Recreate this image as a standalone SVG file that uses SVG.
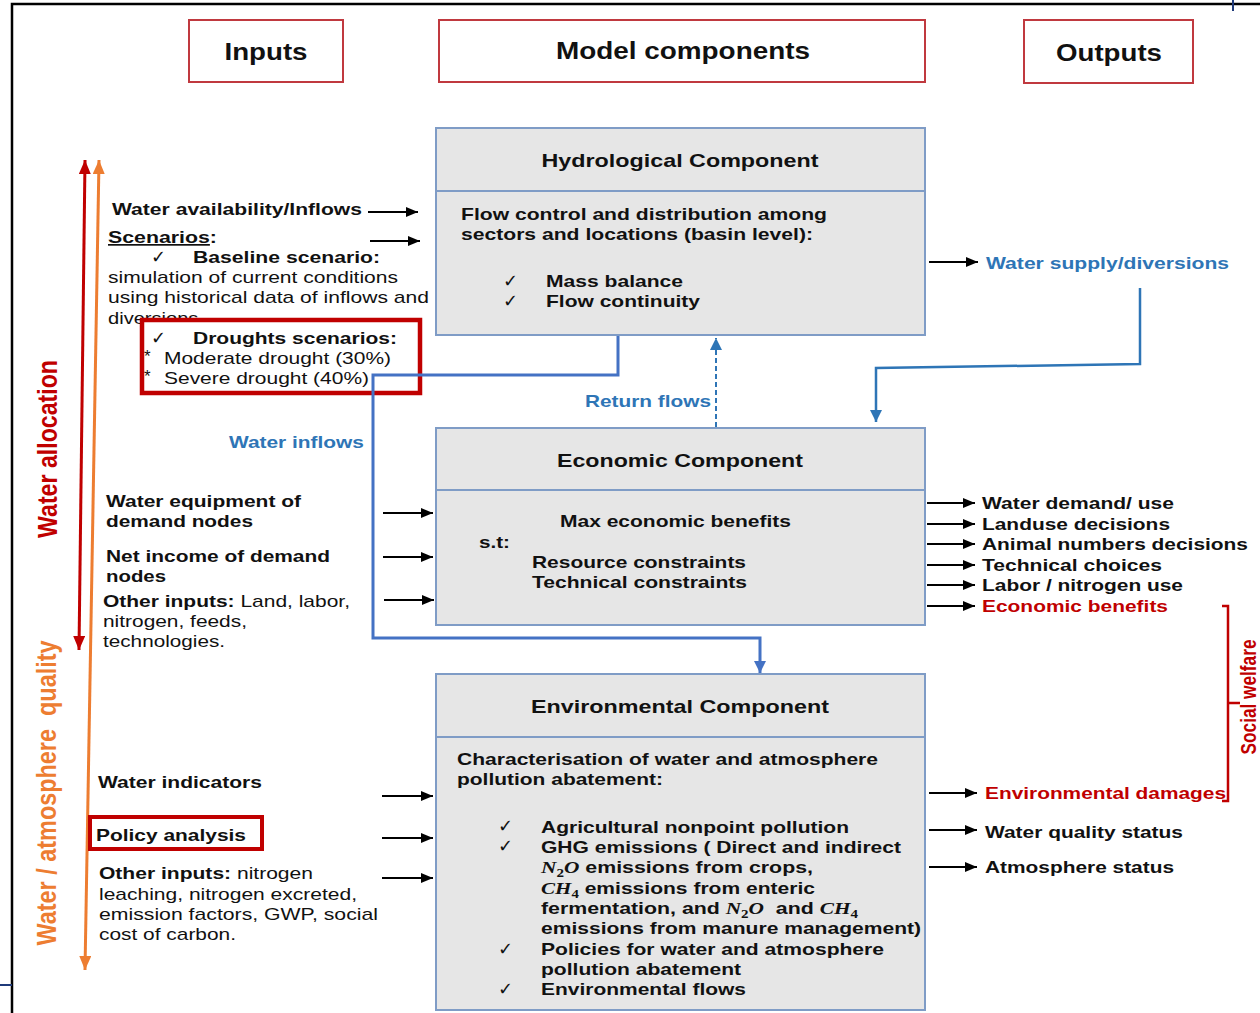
<svg xmlns="http://www.w3.org/2000/svg" width="1260" height="1013" viewBox="0 0 1260 1013">
<style>
text{font-family:"Liberation Sans",Arial,sans-serif;fill:#111}
.hd{font-size:23px;font-weight:bold;text-anchor:middle}
.tt{font-size:19px;font-weight:bold;text-anchor:middle}
.b{font-size:17px;font-weight:bold}
.r{font-weight:normal}
.n{font-size:17px}
.ck{font-family:"DejaVu Sans",sans-serif;font-size:18px}
.m{font-family:"Liberation Serif",serif;font-style:italic;font-weight:bold}
.sub{font-family:"Liberation Serif",serif;font-size:12px;font-weight:bold}
.blu{fill:#2e75b6}
.red{fill:#c00000}
.hbox{fill:#fff;stroke:#c0393f;stroke-width:2}
.comp{fill:#e6e6e6;stroke:#7f9cc6;stroke-width:2}
.div{stroke:#7f9cc6;stroke-width:2}
.ar{stroke:#000;stroke-width:2;fill:none}
</style>
<defs>
<marker id="ah" markerUnits="userSpaceOnUse" markerWidth="12" markerHeight="10" refX="12" refY="5" orient="auto"><path d="M0,0 L12,5 L0,10 z" fill="#000"/></marker>
<marker id="ahb" markerUnits="userSpaceOnUse" markerWidth="12" markerHeight="12" refX="12" refY="6" orient="auto"><path d="M0,0 L12,6 L0,12 z" fill="#4472c4"/></marker>
<marker id="ahb2" markerUnits="userSpaceOnUse" markerWidth="12" markerHeight="12" refX="12" refY="6" orient="auto"><path d="M0,0 L12,6 L0,12 z" fill="#2e75b6"/></marker>
<marker id="ahr" markerUnits="userSpaceOnUse" markerWidth="14" markerHeight="12" refX="14" refY="6" orient="auto-start-reverse"><path d="M0,0 L14,6 L0,12 z" fill="#c00000"/></marker>
<marker id="aho" markerUnits="userSpaceOnUse" markerWidth="14" markerHeight="12" refX="14" refY="6" orient="auto-start-reverse"><path d="M0,0 L14,6 L0,12 z" fill="#ed7d31"/></marker>
</defs>
<rect width="1260" height="1013" fill="#fff"/>
<!-- frame -->
<g id="frame">
<path d="M12,1013 V4 H1260" fill="none" stroke="#000" stroke-width="2.5"/>
<line x1="1233" y1="0" x2="1233" y2="11" stroke="#1f3a7a" stroke-width="2"/>
<line x1="0" y1="985" x2="12" y2="985" stroke="#1f3a7a" stroke-width="2"/>
</g>
<!-- headers -->
<g id="hdr-inputs"><rect class="hbox" x="189" y="20" width="154" height="62"/><text class="hd" x="266" y="60" textLength="83" lengthAdjust="spacingAndGlyphs">Inputs</text></g>
<g id="hdr-model"><rect class="hbox" x="439" y="20" width="486" height="62"/><text class="hd" x="683" y="59" textLength="254" lengthAdjust="spacingAndGlyphs">Model components</text></g>
<g id="hdr-outputs"><rect class="hbox" x="1024" y="20" width="169" height="63"/><text class="hd" x="1109" y="61" textLength="106" lengthAdjust="spacingAndGlyphs">Outputs</text></g>
<!-- side arrows -->
<g id="side-axes">
<line x1="79" y1="650" x2="85" y2="160" stroke="#c00000" stroke-width="3" marker-start="url(#ahr)" marker-end="url(#ahr)"/>
<line x1="85" y1="970" x2="99" y2="160" stroke="#ed7d31" stroke-width="3" marker-start="url(#aho)" marker-end="url(#aho)"/>
<text class="red" font-size="23" font-weight="bold" text-anchor="middle" textLength="178" lengthAdjust="spacingAndGlyphs" transform="translate(57,449) scale(1.2,1) rotate(-90)">Water allocation</text>
<text font-size="24" text-anchor="middle" style="fill:#ed7d31;font-weight:bold" xml:space="preserve" textLength="305" lengthAdjust="spacingAndGlyphs" transform="translate(56,793) scale(1.18,1) rotate(-90)">Water / atmosphere  quality</text>
</g>
<!-- Hydrological component -->
<g id="hydro">
<rect class="comp" x="436" y="128" width="489" height="207"/>
<line class="div" x1="436" y1="191" x2="925" y2="191"/>
<text class="tt" x="680" y="167" textLength="277" lengthAdjust="spacingAndGlyphs">Hydrological Component</text>
<text class="b" x="461" y="220" textLength="366" lengthAdjust="spacingAndGlyphs">Flow control and distribution among</text>
<text class="b" x="461" y="240" textLength="352" lengthAdjust="spacingAndGlyphs">sectors and locations (basin level):</text>
<text class="ck" x="503" y="287">✓</text>
<text class="b" x="546" y="287" textLength="137" lengthAdjust="spacingAndGlyphs">Mass balance</text>
<text class="ck" x="503" y="307">✓</text>
<text class="b" x="546" y="307" textLength="154" lengthAdjust="spacingAndGlyphs">Flow continuity</text>
</g>
<!-- Economic component -->
<g id="econ">
<rect class="comp" x="436" y="428" width="489" height="197"/>
<line class="div" x1="436" y1="490" x2="925" y2="490"/>
<text class="tt" x="680" y="467" textLength="246" lengthAdjust="spacingAndGlyphs">Economic Component</text>
<text class="b" x="560" y="527" textLength="231" lengthAdjust="spacingAndGlyphs">Max economic benefits</text>
<text class="b" x="479" y="548" textLength="31" lengthAdjust="spacingAndGlyphs">s.t:</text>
<text class="b" x="532" y="568" textLength="214" lengthAdjust="spacingAndGlyphs">Resource constraints</text>
<text class="b" x="532" y="588" textLength="215" lengthAdjust="spacingAndGlyphs">Technical constraints</text>
</g>
<!-- Environmental component -->
<g id="env">
<rect class="comp" x="436" y="674" width="489" height="336"/>
<line class="div" x1="436" y1="737" x2="925" y2="737"/>
<text class="tt" x="680" y="713" textLength="298" lengthAdjust="spacingAndGlyphs">Environmental Component</text>
<text class="b" x="457" y="765" textLength="421" lengthAdjust="spacingAndGlyphs">Characterisation of water and atmosphere</text>
<text class="b" x="457" y="785" textLength="206" lengthAdjust="spacingAndGlyphs">pollution abatement:</text>
<text class="ck" x="498" y="832">✓</text>
<text class="ck" x="498" y="852">✓</text>
<text class="ck" x="498" y="955">✓</text>
<text class="ck" x="498" y="995">✓</text>
<text class="b" x="541" y="833" textLength="308" lengthAdjust="spacingAndGlyphs">Agricultural nonpoint pollution</text>
<text class="b" x="541" y="853" textLength="360" lengthAdjust="spacingAndGlyphs">GHG emissions ( Direct and indirect</text>
<text class="b" x="541" y="873" textLength="272" lengthAdjust="spacingAndGlyphs"><tspan class="m">N</tspan><tspan class="sub" dy="4">2</tspan><tspan class="m" dy="-4">O</tspan> emissions from crops,</text>
<text class="b" x="541" y="894" textLength="274" lengthAdjust="spacingAndGlyphs"><tspan class="m">CH</tspan><tspan class="sub" dy="4">4</tspan><tspan dy="-4"> emissions from enteric</tspan></text>
<text class="b" x="541" y="914" xml:space="preserve" textLength="317" lengthAdjust="spacingAndGlyphs">fermentation, and <tspan class="m">N</tspan><tspan class="sub" dy="4">2</tspan><tspan class="m" dy="-4">O</tspan>  and <tspan class="m">CH</tspan><tspan class="sub" dy="4">4</tspan></text>
<text class="b" x="541" y="934" textLength="380" lengthAdjust="spacingAndGlyphs">emissions from manure management)</text>
<text class="b" x="541" y="955" textLength="343" lengthAdjust="spacingAndGlyphs">Policies for water and atmosphere</text>
<text class="b" x="541" y="975" textLength="200" lengthAdjust="spacingAndGlyphs">pollution abatement</text>
<text class="b" x="541" y="995" textLength="205" lengthAdjust="spacingAndGlyphs">Environmental flows</text>
</g>
<!-- Hydro inputs -->
<g id="hydro-inputs">
<text class="b" x="112" y="215" textLength="250" lengthAdjust="spacingAndGlyphs">Water availability/Inflows</text>
<text class="b" x="108" y="243" textLength="109" lengthAdjust="spacingAndGlyphs"><tspan text-decoration="underline">Scenarios</tspan>:</text>
<text class="ck" x="151" y="263">✓</text>
<text class="b" x="193" y="263" textLength="187" lengthAdjust="spacingAndGlyphs">Baseline scenario:</text>
<text class="n" x="108" y="283" textLength="290" lengthAdjust="spacingAndGlyphs">simulation of current conditions</text>
<text class="n" x="108" y="303" textLength="321" lengthAdjust="spacingAndGlyphs">using historical data of inflows and</text>
<text class="n" x="108" y="324" textLength="96" lengthAdjust="spacingAndGlyphs">diversions.</text>
</g>
<g id="droughts">
<rect x="142" y="320" width="278" height="73" fill="#fff" stroke="#c00000" stroke-width="4.5"/>
<text class="ck" x="151" y="344">✓</text>
<text class="b" x="193" y="344" textLength="204" lengthAdjust="spacingAndGlyphs">Droughts scenarios:</text>
<text class="n" x="144" y="362" font-size="13">*</text>
<text class="n" x="164" y="364" textLength="227" lengthAdjust="spacingAndGlyphs">Moderate drought (30%)</text>
<text class="n" x="144" y="382" font-size="13">*</text>
<text class="n" x="164" y="384" textLength="205" lengthAdjust="spacingAndGlyphs">Severe drought (40%)</text>
</g>
<!-- Econ inputs -->
<g id="econ-inputs">
<text class="b" x="106" y="507" textLength="195" lengthAdjust="spacingAndGlyphs">Water equipment of</text>
<text class="b" x="106" y="527" textLength="147" lengthAdjust="spacingAndGlyphs">demand nodes</text>
<text class="b" x="106" y="562" textLength="224" lengthAdjust="spacingAndGlyphs">Net income of demand</text>
<text class="b" x="106" y="582" textLength="60" lengthAdjust="spacingAndGlyphs">nodes</text>
<text class="b" x="103" y="607" textLength="247" lengthAdjust="spacingAndGlyphs">Other inputs:<tspan class="r"> Land, labor,</tspan></text>
<text class="n" x="103" y="627" textLength="144" lengthAdjust="spacingAndGlyphs">nitrogen, feeds,</text>
<text class="n" x="103" y="647" textLength="122" lengthAdjust="spacingAndGlyphs">technologies.</text>
</g>
<!-- Env inputs -->
<g id="env-inputs">
<text class="b" x="98" y="788" textLength="164" lengthAdjust="spacingAndGlyphs">Water indicators</text>
<rect x="90" y="817" width="172" height="32" fill="none" stroke="#c00000" stroke-width="4"/>
<text class="b" x="96" y="841" textLength="150" lengthAdjust="spacingAndGlyphs">Policy analysis</text>
<text class="b" x="99" y="879" textLength="214" lengthAdjust="spacingAndGlyphs">Other inputs:<tspan class="r"> nitrogen</tspan></text>
<text class="n" x="99" y="900" textLength="258" lengthAdjust="spacingAndGlyphs">leaching, nitrogen excreted,</text>
<text class="n" x="99" y="920" textLength="279" lengthAdjust="spacingAndGlyphs">emission factors, GWP, social</text>
<text class="n" x="99" y="940" textLength="137" lengthAdjust="spacingAndGlyphs">cost of carbon.</text>
</g>
<!-- Outputs -->
<g id="hydro-outputs">
<text class="b blu" x="986" y="269" textLength="243" lengthAdjust="spacingAndGlyphs">Water supply/diversions</text>
</g>
<g id="econ-outputs">
<text class="b" x="982" y="509" textLength="192" lengthAdjust="spacingAndGlyphs">Water demand/ use</text>
<text class="b" x="982" y="530" textLength="188" lengthAdjust="spacingAndGlyphs">Landuse decisions</text>
<text class="b" x="982" y="550" textLength="266" lengthAdjust="spacingAndGlyphs">Animal numbers decisions</text>
<text class="b" x="982" y="571" textLength="180" lengthAdjust="spacingAndGlyphs">Technical choices</text>
<text class="b" x="982" y="591" textLength="201" lengthAdjust="spacingAndGlyphs">Labor / nitrogen use</text>
<text class="b red" x="982" y="612" textLength="186" lengthAdjust="spacingAndGlyphs">Economic benefits</text>
</g>
<g id="env-outputs">
<text class="b red" x="985" y="799" textLength="241" lengthAdjust="spacingAndGlyphs">Environmental damages</text>
<text class="b" x="985" y="838" textLength="198" lengthAdjust="spacingAndGlyphs">Water quality status</text>
<text class="b" x="985" y="873" textLength="189" lengthAdjust="spacingAndGlyphs">Atmosphere status</text>
</g>
<g id="social-welfare">
<path d="M1222,606 H1228 V801 H1222 M1228,703 H1240" fill="none" stroke="#c00000" stroke-width="2.5"/>
<text class="red" font-size="17" font-weight="bold" text-anchor="middle" textLength="115" lengthAdjust="spacingAndGlyphs" transform="translate(1256,697) scale(1.25,1) rotate(-90)">Social welfare</text>
</g>
<!-- flow labels -->
<g id="flow-labels">
<text class="b blu" x="229" y="448" textLength="135" lengthAdjust="spacingAndGlyphs">Water inflows</text>
<text class="b blu" x="585" y="407" textLength="126" lengthAdjust="spacingAndGlyphs">Return flows</text>
</g>
<!-- connectors -->
<g id="connectors">
<line class="ar" x1="368" y1="212" x2="418" y2="212" marker-end="url(#ah)"/>
<line class="ar" x1="370" y1="241" x2="420" y2="241" marker-end="url(#ah)"/>
<line class="ar" x1="383" y1="513" x2="433" y2="513" marker-end="url(#ah)"/>
<line class="ar" x1="383" y1="557" x2="433" y2="557" marker-end="url(#ah)"/>
<line class="ar" x1="384" y1="600" x2="434" y2="600" marker-end="url(#ah)"/>
<line class="ar" x1="382" y1="796" x2="433" y2="796" marker-end="url(#ah)"/>
<line class="ar" x1="382" y1="838" x2="433" y2="838" marker-end="url(#ah)"/>
<line class="ar" x1="382" y1="878" x2="433" y2="878" marker-end="url(#ah)"/>
<line class="ar" x1="929" y1="262" x2="978" y2="262" marker-end="url(#ah)"/>
<line class="ar" x1="927" y1="503" x2="975" y2="503" marker-end="url(#ah)"/>
<line class="ar" x1="927" y1="524" x2="975" y2="524" marker-end="url(#ah)"/>
<line class="ar" x1="927" y1="544" x2="975" y2="544" marker-end="url(#ah)"/>
<line class="ar" x1="927" y1="565" x2="975" y2="565" marker-end="url(#ah)"/>
<line class="ar" x1="927" y1="585" x2="975" y2="585" marker-end="url(#ah)"/>
<line class="ar" x1="927" y1="606" x2="975" y2="606" marker-end="url(#ah)"/>
<line class="ar" x1="929" y1="793" x2="977" y2="793" marker-end="url(#ah)"/>
<line class="ar" x1="929" y1="830" x2="977" y2="830" marker-end="url(#ah)"/>
<line class="ar" x1="929" y1="867" x2="977" y2="867" marker-end="url(#ah)"/>
<path d="M618,336 V375 H373 V638 H760 V673" fill="none" stroke="#4472c4" stroke-width="3" marker-end="url(#ahb)"/>
<path d="M1140,288 V364 L876,368 V422" fill="none" stroke="#2e75b6" stroke-width="2.5" marker-end="url(#ahb2)"/>
<line x1="716" y1="427" x2="716" y2="338" stroke="#2e75b6" stroke-width="2" stroke-dasharray="5,3" marker-end="url(#ahb2)"/>
</g>
</svg>
